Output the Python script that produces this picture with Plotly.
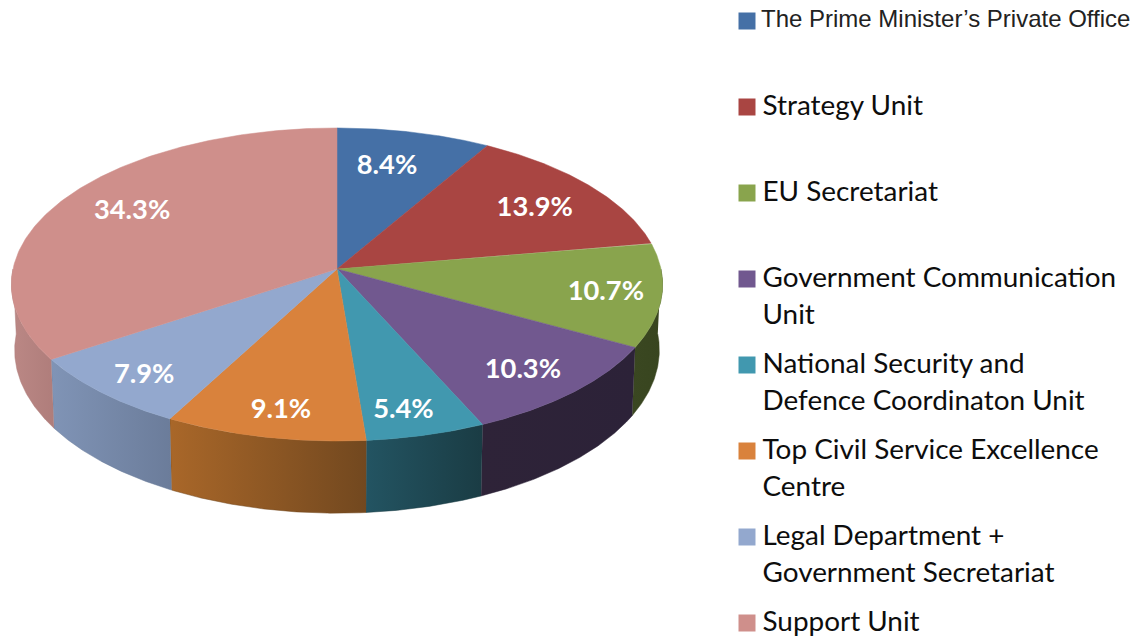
import numpy as np
import plotly.graph_objects as go

# ---- data ----
categories = [
    "The Prime Minister’s Private Office",
    "Strategy Unit",
    "EU Secretariat",
    "Government Communication<br>Unit",
    "National Security and<br>Defence Coordinaton Unit",
    "Top Civil Service Excellence<br>Centre",
    "Legal Department +<br>Government Secretariat",
    "Support Unit",
]
shares = [8.4, 13.9, 10.7, 10.3, 5.4, 9.1, 7.9, 34.3]

# ---- styles ----
top_colors = ["#4570A6", "#A94542", "#89A44D", "#71588F", "#4198AF", "#D9823C", "#93A8CE", "#CF8F8B"]
wall_left = ["#2D4A6E", "#6E2D2B", "#3A4721", "#2E2338", "#235462", "#A96729", "#8094B6", "#BB8885"]
wall_right = ["#2D4A6E", "#6E2D2B", "#38451F", "#2C2238", "#1A3C44", "#72481F", "#6B7C9A", "#AF7D7B"]
label_radius = [0.74, 0.76, 0.83, 0.81, 0.85, 0.84, 0.845, 0.77]
label_nudge = [-2.2, 1.5, 0.0, 0.9, 1.6, -0.8, -1.0, 3.1]

CX, CY, RX, RY, K = 337.0, 269.0, 324.0, 155.0, 0.099
DEPTH, BOTTOM_SCALE = 65.0, 0.99
LABEL_DROP = 2.5


def project(deg, r=1.0, drop=False):
    a = np.radians(np.asarray(deg, dtype=float))
    u, v = r * np.sin(a), r * np.cos(a)
    w = 1 + K * v
    x, y = RX * u / w, -RY * v / w
    if drop:
        return CX + x * BOTTOM_SCALE, CY + y + DEPTH / w
    return CX + x, CY + y


edges = np.cumsum([0] + shares) / sum(shares) * 360.0
fig = go.Figure()

# side walls, only the part of the rim that faces the viewer
for i in range(len(shares)):
    a0, a1 = max(edges[i], 90.0), min(edges[i + 1], 270.0)
    if a1 <= a0:
        continue
    t = np.linspace(a0, a1, 80)
    xt, yt = project(t)
    xb, yb = project(t[::-1], drop=True)
    fig.add_trace(go.Scatter(
        x=np.r_[xt, xb], y=np.r_[yt, yb], mode="lines", fill="toself",
        line=dict(width=0.5, color=wall_right[i]),
        fillgradient=dict(type="horizontal", colorscale=[[0, wall_left[i]], [1, wall_right[i]]]),
        hoverinfo="skip", showlegend=False))

# top face
for i in range(len(shares)):
    t = np.linspace(edges[i], edges[i + 1], 150)
    xt, yt = project(t)
    fig.add_trace(go.Scatter(
        x=np.r_[CX, xt, CX], y=np.r_[CY, yt, CY], mode="lines", fill="toself",
        fillcolor=top_colors[i], line=dict(width=0.5, color=top_colors[i]),
        hoverinfo="skip", showlegend=False))

# percentage labels
mids = (edges[:-1] + edges[1:]) / 2 + np.array(label_nudge)
lx, ly = project(mids, r=np.array(label_radius))
fig.add_trace(go.Scatter(
    x=lx, y=ly + LABEL_DROP, mode="text", text=[f"{s:.1f}%" for s in shares],
    textposition="middle center",
    textfont=dict(family="Lato", size=27.3, color="white", weight="bold"),
    hoverinfo="skip", showlegend=False))

# legend built on the same axes
LEG_X, LEG_Y, LEG_STEP, LINE_STEP = 747.0, 21.0, 86.0, 37.0
fig.add_trace(go.Scatter(
    x=[LEG_X] * len(categories), y=[LEG_Y + LEG_STEP * i for i in range(len(categories))],
    mode="markers", marker=dict(symbol="square", size=17, color=top_colors, line=dict(width=0)),
    hoverinfo="skip", showlegend=False))
for i, name in enumerate(categories):
    for j, line in enumerate(name.split("<br>")):
        first = i == 0
        fig.add_trace(go.Scatter(
            x=[761.0 if first else 762.5], y=[LEG_Y + LEG_STEP * i + LINE_STEP * j + (0 if first else 1.5)],
            mode="text", text=[line], textposition="middle right",
            textfont=dict(family="Liberation Sans" if first else "Lato",
                          size=24 if first else 27.9, color="#222222" if first else "#0d0d0d"),
            hoverinfo="skip", showlegend=False))

fig.update_layout(
    width=1146, height=639, margin=dict(l=0, r=0, t=0, b=0),
    paper_bgcolor="white", plot_bgcolor="white",
    xaxis=dict(range=[0, 1146], visible=False, fixedrange=True),
    yaxis=dict(range=[639, 0], visible=False, fixedrange=True),
)
fig.write_html("out.html", config={"displayModeBar": False},
               post_script="document.body.style.margin='0';document.documentElement.style.overflow='hidden';")
